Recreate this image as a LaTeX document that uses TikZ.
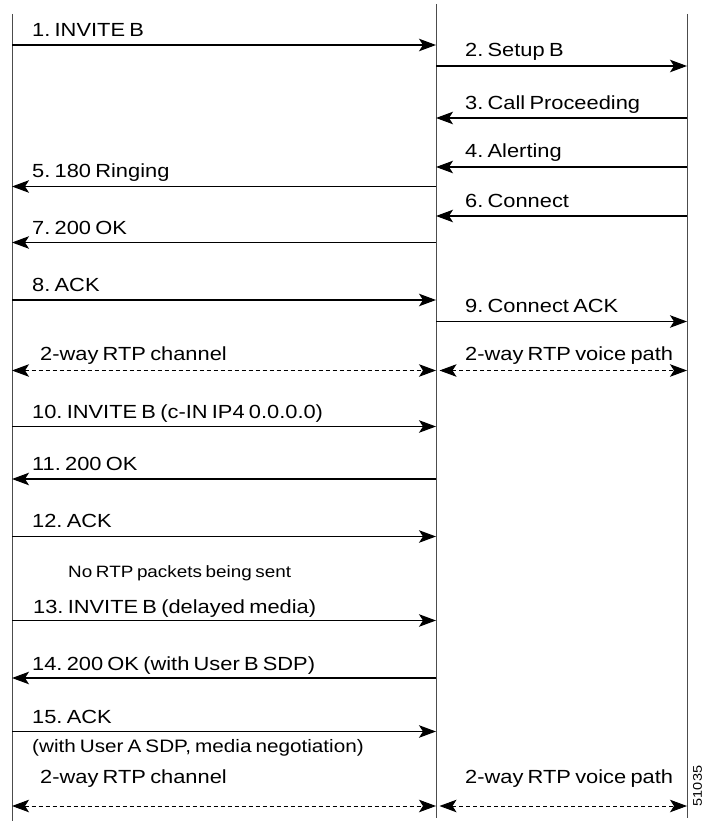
\documentclass[tikz,border=0pt]{standalone}
\usepackage{fontspec}
\setmainfont{Liberation Sans}[FakeStretch=1.15,WordSpace=0.7]
\frenchspacing
\usetikzlibrary{arrows.meta}
\begin{document}
\begin{tikzpicture}[x=1pt,y=-1pt,
  lifeline/.style={line width=0.9pt, black!70},
  tip/.tip={Stealth[length=17pt,width=12.5pt,inset=4pt]},
  msg/.style={line width=1.2pt, -tip},
  rtp/.style={line width=0.9pt, dash pattern=on 4pt off 3pt, tip-tip},
  lbl/.style={anchor=base west, inner sep=0pt, font=\fontsize{19}{21}\selectfont\frenchspacing},
  note/.style={anchor=base west, inner sep=0pt, font=\fontsize{16.4}{18}\selectfont}]
  \useasboundingbox (0,0) rectangle (705,821);

  % lifelines
  \coordinate (Atop) at (12,14);   \coordinate (Abot) at (12,821);
  \coordinate (Btop) at (436.5,4); \coordinate (Bbot) at (436.5,818);
  \coordinate (Ctop) at (687,14);  \coordinate (Cbot) at (687,818);
  \draw[lifeline] (Atop) -- (Abot);
  \draw[lifeline] (Btop) -- (Bbot);
  \draw[lifeline] (Ctop) -- (Cbot);

  % message end points on the lifelines
  \foreach \n/\y in {1/45,2/66,3/118,4/167,5/186.5,6/216,7/242.5,8/300,9/321.5,
                     r1/370.5,10/426.5,11/479,12/536.5,13/620.5,14/678,15/731.5,r2/806}{
    \coordinate (a\n) at (12,\y);
    \coordinate (b\n) at (436,\y);
    \coordinate (c\n) at (687,\y);
  }

  % signalling
  \draw[msg] (a1) -- (b1);
  \node[lbl] (l1) at (32,36.7) {1. INVITE B};
  \draw[msg] (b2) -- (c2);
  \node[lbl] (l2) at (465,57) {2. Setup B};
  \draw[msg] (c3) -- (b3);
  \node[lbl] (l3) at (465,110) {3. Call Proceeding};
  \draw[msg] (c4) -- (b4);
  \node[lbl] (l4) at (465,158) {4. Alerting};
  \draw[msg] (b5) -- (a5);
  \node[lbl] (l5) at (32,178) {5. 180 Ringing};
  \draw[msg] (c6) -- (b6);
  \node[lbl] (l6) at (465,207) {6. Connect};
  \draw[msg] (b7) -- (a7);
  \node[lbl] (l7) at (32,234) {7. 200 OK};
  \draw[msg] (a8) -- (b8);
  \node[lbl] (l8) at (32,291) {8. ACK};
  \draw[msg] (b9) -- (c9);
  \node[lbl] (l9) at (465,312.5) {9. Connect ACK};

  % media
  \draw[rtp] (ar1) -- (br1);
  \node[lbl] (lr1a) at (40,360) {2-way RTP channel};
  \draw[rtp, shorten <=3.5pt] (br1) -- (cr1);
  \node[lbl] (lr1b) at (465,360) {2-way RTP voice path};

  % hold and resume
  \draw[msg] (a10) -- (b10);
  \node[lbl] (l10) at (32,418) {10. INVITE B (c-IN IP4 0.0.0.0)};
  \draw[msg] (b11) -- (a11);
  \node[lbl] (l11) at (32,470) {11. 200 OK};
  \draw[msg] (a12) -- (b12);
  \node[lbl] (l12) at (32,527) {12. ACK};
  \node[note] (n1) at (68,577) {No RTP packets being sent};
  \draw[msg] (a13) -- (b13);
  \node[lbl] (l13) at (33,613) {13. INVITE B (delayed media)};
  \draw[msg] (b14) -- (a14);
  \node[lbl] (l14) at (32,670) {14. 200 OK (with User B SDP)};
  \draw[msg] (a15) -- (b15);
  \node[lbl] (l15) at (32,723) {15. ACK};
  \node[lbl, font=\fontsize{18}{20}\selectfont] (l15b) at (32,752) {(with User A SDP, media negotiation)};

  \draw[rtp] (ar2) -- (br2);
  \node[lbl] (lr2a) at (40,783) {2-way RTP channel};
  \draw[rtp, shorten <=3.5pt] (br2) -- (cr2);
  \node[lbl] (lr2b) at (465,783) {2-way RTP voice path};

  \node[rotate=90, inner sep=0pt, font=\fontsize{12.6}{14}\selectfont] (id) at (697.5,786) {51035};
\end{tikzpicture}
\end{document}
